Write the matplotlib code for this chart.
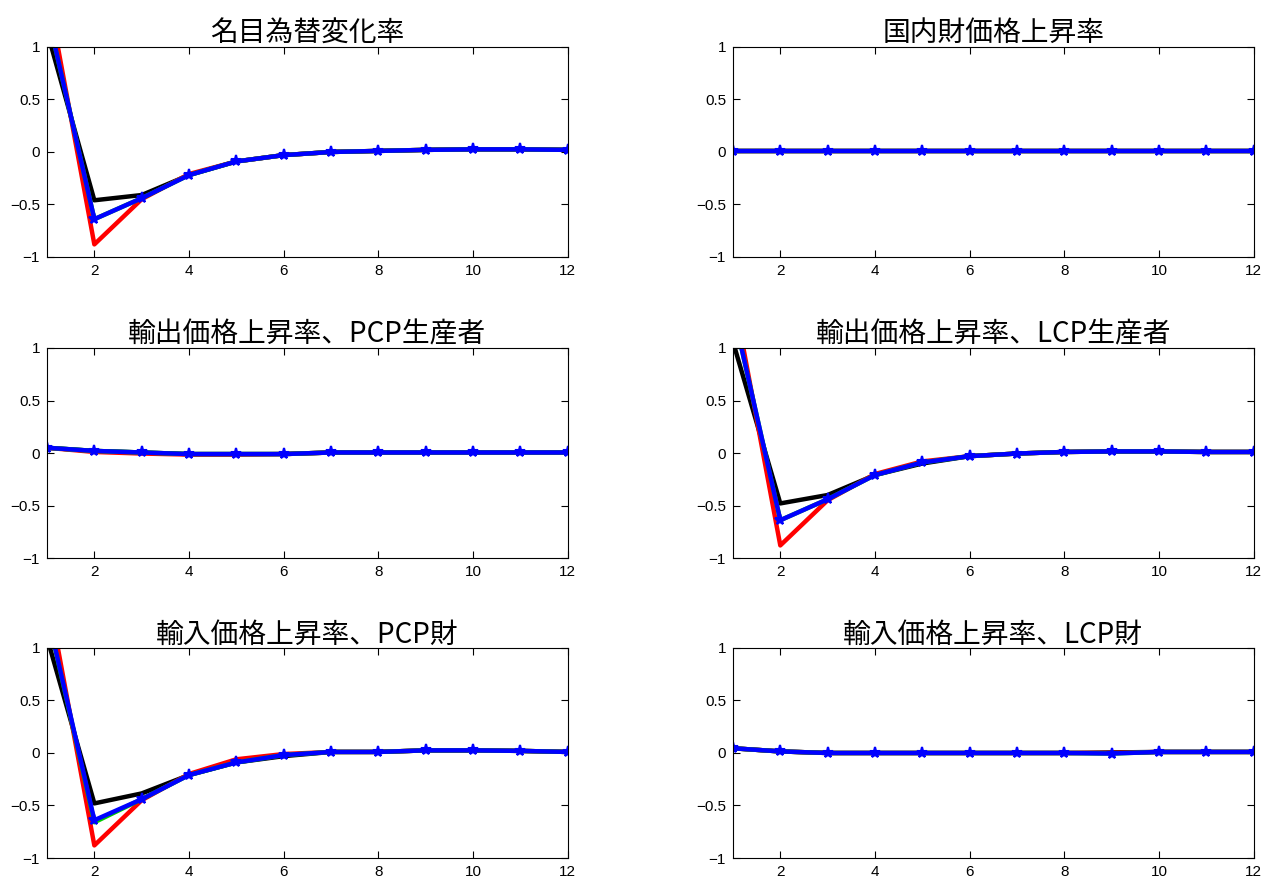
import numpy as np
import matplotlib
matplotlib.use("Agg")
import matplotlib.pyplot as plt

plt.rcParams['font.family'] = ['Noto Sans CJK JP', 'DejaVu Sans']

# horizon (quarters)
periods = list(range(1, 13))

titles = ['名目為替変化率', '国内財価格上昇率',
          '輸出価格上昇率、PCP生産者', '輸出価格上昇率、LCP生産者',
          '輸入価格上昇率、PCP財', '輸入価格上昇率、LCP財']

# 名目為替変化率
ex_black = [1.15, -0.46, -0.41, -0.22, -0.09, -0.03, 0.00, 0.01, 0.02, 0.025, 0.025, 0.02]
ex_red   = [1.56, -0.88, -0.45, -0.21, -0.09, -0.03, 0.00, 0.01, 0.02, 0.025, 0.025, 0.02]
ex_green = [1.34, -0.64, -0.44, -0.22, -0.09, -0.03, 0.00, 0.01, 0.02, 0.025, 0.025, 0.02]
ex_blue  = [1.34, -0.64, -0.44, -0.22, -0.09, -0.03, 0.00, 0.01, 0.02, 0.025, 0.025, 0.02]

# 国内財価格上昇率
dom_black = [0.01] * 12
dom_red   = [0.01] * 12
dom_green = [0.01] * 12
dom_blue  = [0.01] * 12

# 輸出価格上昇率、PCP生産者
xp_black = [0.05, 0.02, 0.005, -0.01, -0.01, -0.01, 0.005, 0.005, 0.005, 0.005, 0.005, 0.005]
xp_red   = [0.05, 0.01, -0.005, -0.015, -0.015, -0.01, 0.005, 0.005, 0.005, 0.005, 0.005, 0.005]
xp_green = [0.05, 0.02, 0.005, -0.01, -0.01, -0.01, 0.005, 0.005, 0.005, 0.005, 0.005, 0.005]
xp_blue  = [0.05, 0.02, 0.005, -0.01, -0.01, -0.01, 0.005, 0.005, 0.005, 0.005, 0.005, 0.005]

# 輸出価格上昇率、LCP生産者
xl_black = [1.06, -0.48, -0.40, -0.21, -0.10, -0.03, -0.005, 0.01, 0.015, 0.015, 0.01, 0.01]
xl_red   = [1.53, -0.88, -0.45, -0.20, -0.08, -0.03, -0.005, 0.01, 0.015, 0.015, 0.01, 0.01]
xl_green = [1.36, -0.64, -0.44, -0.21, -0.09, -0.03, -0.005, 0.01, 0.015, 0.015, 0.01, 0.01]
xl_blue  = [1.36, -0.64, -0.44, -0.21, -0.09, -0.03, -0.005, 0.01, 0.015, 0.015, 0.01, 0.01]

# 輸入価格上昇率、PCP財
mp_black = [1.10, -0.48, -0.385, -0.21, -0.09, -0.03, 0.01, 0.01, 0.025, 0.025, 0.02, 0.01]
mp_red   = [1.56, -0.88, -0.45, -0.20, -0.06, -0.01, 0.01, 0.01, 0.025, 0.025, 0.02, 0.01]
mp_green = [1.34, -0.66, -0.44, -0.21, -0.09, -0.02, 0.01, 0.01, 0.025, 0.025, 0.02, 0.01]
mp_blue  = [1.34, -0.64, -0.44, -0.21, -0.09, -0.02, 0.01, 0.01, 0.025, 0.025, 0.02, 0.01]

# 輸入価格上昇率、LCP財
ml_black = [0.045, 0.015, 0.0, 0.0, 0.0, 0.0, 0.0, 0.0, 0.005, 0.01, 0.01, 0.01]
ml_red   = [0.045, 0.015, 0.0, 0.0, 0.0, 0.0, 0.0, 0.0, 0.0, 0.01, 0.01, 0.01]
ml_green = [0.045, 0.015, 0.0, 0.0, 0.0, 0.0, 0.0, 0.0, -0.005, 0.01, 0.01, 0.01]
ml_blue  = [0.045, 0.015, 0.0, 0.0, 0.0, 0.0, 0.0, 0.0, -0.005, 0.01, 0.01, 0.01]

panels = [
    (ex_black, ex_red, ex_green, ex_blue),
    (dom_black, dom_red, dom_green, dom_blue),
    (xp_black, xp_red, xp_green, xp_blue),
    (xl_black, xl_red, xl_green, xl_blue),
    (mp_black, mp_red, mp_green, mp_blue),
    (ml_black, ml_red, ml_green, ml_blue),
]

fig = plt.figure(figsize=(12.67, 8.81), dpi=100)

lefts = [0.0371, 0.5785]
bottoms = [0.7083, 0.3666, 0.0261]
w, h = 0.411, 0.2384

for i, (title, series) in enumerate(zip(titles, panels)):
    ax = fig.add_axes([lefts[i % 2], bottoms[i // 2], w, h])
    blk, red, grn, blu = series
    ax.plot(periods, blk, color='black', lw=3.2)
    ax.plot(periods, red, color='red', lw=3.2)
    ax.plot(periods, grn, color='#00cc00', lw=3.2)
    ax.plot(periods, blu, color='blue', lw=3.2, marker='*', ms=8, mew=1.5)
    ax.set_xlim(1, 12)
    ax.set_ylim(-1, 1)
    ax.set_xticks([2, 4, 6, 8, 10, 12])
    ax.set_yticks([-1, -0.5, 0, 0.5, 1])
    ax.set_yticklabels(['−1', '−0.5', '0', '0.5', '1'])
    ax.tick_params(direction='in', top=True, right=True, length=5, pad=5)
    for lab in ax.get_xticklabels() + ax.get_yticklabels():
        lab.set_family(['Liberation Sans', 'DejaVu Sans'])
        lab.set_fontsize(11)
    ax.set_title(title, fontsize=20, pad=4)

fig.savefig('out.png', dpi=100)
